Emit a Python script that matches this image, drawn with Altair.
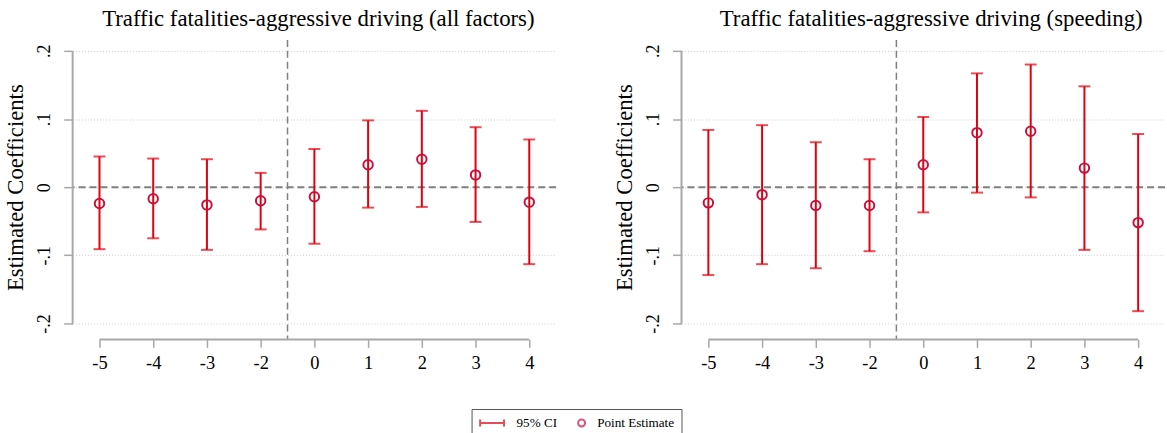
import json
import altair as alt
import pandas as pd

# ---------------- data ----------------
labels = ["-5", "-4", "-3", "-2", "0", "1", "2", "3", "4"]

left_title = "Traffic fatalities-aggressive driving (all factors)"
left_est = [-0.024, -0.017, -0.026, -0.020, -0.014, 0.033, 0.041, 0.018, -0.022]
left_lo = [-0.091, -0.075, -0.092, -0.062, -0.083, -0.030, -0.029, -0.051, -0.113]
left_hi = [0.045, 0.042, 0.041, 0.021, 0.056, 0.098, 0.112, 0.088, 0.070]

right_title = "Traffic fatalities-aggressive driving (speeding)"
right_est = [-0.023, -0.011, -0.027, -0.027, 0.033, 0.080, 0.082, 0.028, -0.052]
right_lo = [-0.129, -0.113, -0.119, -0.094, -0.037, -0.008, -0.015, -0.092, -0.182]
right_hi = [0.084, 0.091, 0.066, 0.041, 0.103, 0.167, 0.180, 0.148, 0.078]

ytick_vals = [-0.2, -0.1, 0, 0.1, 0.2]
ytick_labels = ["-.2", "-.1", "0", ".1", ".2"]
legend_items = ["95% CI", "Point Estimate"]

# ---------------- style ----------------
FONT = "Liberation Serif"
CI_COLOR = "#e2000f"
PT_COLOR = "#c8103c"
REF_GRAY = "#7f7f7f"
AXIS_GRAY = "#a8a8a8"
W, H = 486, 301
Y_DOMAIN = [-0.2234, 0.2161]
X_DOMAIN = [-0.5, len(labels) - 0.5]
EVENT_X = labels.index("0") - 0.5

# legend glyphs (unit = 5 px): CI bar with caps, hollow circle
ci_path = "M-1,0H3.8M-1,-0.7V0.7M3.8,-0.7V0.7"
pt_path = "M3.9,0A0.7,0.7 0 1 1 2.5,0A0.7,0.7 0 1 1 3.9,0Z"

x_label_expr = f"{json.dumps(labels)}[datum.value]"
y_label_expr = (
    f"{json.dumps(ytick_labels)}[indexof({json.dumps(ytick_vals)}, datum.value)]"
)

xs = alt.Scale(domain=X_DOMAIN, nice=False, zero=False)
ys = alt.Scale(domain=Y_DOMAIN, nice=False, zero=False)

x_axis = alt.Axis(
    values=list(range(len(labels))),
    labelExpr=x_label_expr,
    domain=False,
    grid=False,
    ticks=True,
    tickSize=8,
    tickColor=AXIS_GRAY,
    tickWidth=1.5,
    labelFont=FONT,
    labelFontSize=18.5,
    labelColor="black",
    labelPadding=6,
    title=None,
)

y_axis = alt.Axis(
    values=ytick_vals,
    labelExpr=y_label_expr,
    domain=False,
    grid=True,
    gridColor="#cccccc",
    gridDash=[1, 2],
    gridWidth=1,
    ticks=True,
    tickSize=9,
    tickColor=AXIS_GRAY,
    tickWidth=1.5,
    labelFont=FONT,
    labelFontSize=18,
    labelColor="black",
    labelAngle=270,
    labelAlign="center",
    labelBaseline="alphabetic",
    labelPadding=14,
    title="Estimated Coefficients",
    titleFont=FONT,
    titleFontSize=22.8,
    titleFontWeight="normal",
    titleColor="black",
    titleAngle=270,
    titleAlign="center",
    titleBaseline="middle",
    titleX=-57,
    titleY=148,
)

one = pd.DataFrame({"k": [0]})


def panel(title, est, lo, hi, dx, with_legend):
    df = pd.DataFrame(
        {"idx": list(range(len(labels))), "label": labels, "est": est, "lo": lo, "hi": hi}
    )
    base = alt.Chart(df)

    zero_line = alt.Chart(one).mark_rule(
        color=REF_GRAY, strokeWidth=2, strokeDash=[7, 4]
    ).encode(y=alt.datum(0))

    event_line = alt.Chart(one).mark_rule(
        color=REF_GRAY, strokeWidth=1.5, strokeDash=[7, 4]
    ).encode(x=alt.datum(EVENT_X))

    x_line = alt.Chart(one).mark_rule(color=AXIS_GRAY, strokeWidth=2).encode(
        x=alt.datum(0), x2=alt.datum(len(labels) - 1), y=alt.datum(Y_DOMAIN[0])
    )

    y_line = alt.Chart(one).mark_rule(color=AXIS_GRAY, strokeWidth=2).encode(
        x=alt.datum(X_DOMAIN[0]), y=alt.datum(ytick_vals[0]), y2=alt.datum(ytick_vals[-1])
    )

    bars = base.mark_rule(color=CI_COLOR, strokeWidth=2).encode(
        x=alt.X("idx:Q", scale=xs, axis=x_axis),
        y=alt.Y("lo:Q", scale=ys, axis=y_axis),
        y2="hi:Q",
    )
    cap_lo = base.mark_tick(
        color=CI_COLOR, orient="horizontal", size=12, thickness=2
    ).encode(x="idx:Q", y="lo:Q")
    cap_hi = base.mark_tick(
        color=CI_COLOR, orient="horizontal", size=12, thickness=2
    ).encode(x="idx:Q", y="hi:Q")
    pts = base.mark_point(
        shape="circle", filled=False, size=90, strokeWidth=2, color=PT_COLOR, opacity=1
    ).encode(x="idx:Q", y="est:Q")

    layers = [zero_line, event_line, x_line, y_line, bars, cap_lo, cap_hi, pts]

    if with_legend:
        leg = alt.Legend(
            orient="none",
            legendX=401,
            legendY=371,
            direction="horizontal",
            title=None,
            strokeColor="#555555",
            padding=7,
            labelFont=FONT,
            labelFontSize=13.2,
            labelColor="black",
            labelOffset=25,
            labelExpr="datum.label + '\u00a0\u00a0'",
            columnPadding=2,
            symbolSize=100,
            symbolStrokeWidth=2,
            symbolFillColor="transparent",
        )
        ldf = pd.DataFrame({"item": legend_items})
        dummy = (
            alt.Chart(ldf)
            .mark_point(filled=False)
            .encode(
                x=alt.value(0),
                y=alt.value(0),
                stroke=alt.Stroke(
                    "item:N",
                    scale=alt.Scale(domain=legend_items, range=[CI_COLOR, PT_COLOR]),
                    legend=leg,
                ),
                shape=alt.Shape(
                    "item:N",
                    scale=alt.Scale(domain=legend_items, range=[ci_path, pt_path]),
                    legend=leg,
                ),
            )
            .transform_filter("false")
        )
        layers.append(dummy)

    return alt.layer(*layers).properties(
        width=W,
        height=H,
        title=alt.TitleParams(
            text=title,
            font=FONT,
            fontSize=22.9,
            fontWeight="normal",
            color="black",
            anchor="middle",
            frame="group",
            baseline="alphabetic",
            offset=-10,
            dx=dx,
        ),
    )


left = panel(left_title, left_est, left_lo, left_hi, 4, True)
right = panel(right_title, right_est, right_lo, right_hi, 8, False)

chart = (
    alt.hconcat(left, right, spacing=126, bounds="flush")
    .properties(
        padding={"left": 4, "top": 6, "right": 0, "bottom": 0},
        background="white",
    )
    .configure_view(stroke="transparent")
    .configure_legend(strokeWidth=1)
)

chart.save("out.html", embed_options={"renderer": "svg", "actions": False})
